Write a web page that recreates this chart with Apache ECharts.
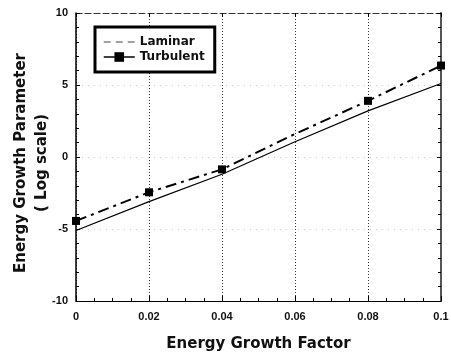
<!DOCTYPE html>
<html>
<head>
<meta charset="utf-8">
<script src="https://cdn.jsdelivr.net/npm/echarts@6/dist/echarts.min.js"></script>
<style>
html,body{margin:0;padding:0;background:#fff;}
#chart{width:451px;height:354px;}
</style>
</head>
<body>
<div id="chart"></div>
<script>
var xValues = [0, 0.02, 0.04, 0.06, 0.08, 0.1];
var laminar = [-5.1, -3.1, -1.2, 1.06, 3.2, 5.1];
var turbulent = [-4.44, -2.45, -0.86, 1.6, 3.9, 6.35];
var turbulentMarked = [true, true, true, false, true, true];
var xTicks = ['0', '0.02', '0.04', '0.06', '0.08', '0.1'];
var yTicks = ['-10', '-5', '0', '5', '10'];

var FONT = '"Liberation Sans", Arial, sans-serif';
var WIDE = '"DejaVu Sans", sans-serif';

var chart = echarts.init(document.getElementById('chart'), null, {renderer: 'canvas'});

function fmtX(v) {
  var i = Math.round(v / 0.02);
  return xTicks[i] !== undefined ? xTicks[i] : '';
}
function fmtY(v) {
  var i = Math.round((v + 10) / 5);
  return yTicks[i] !== undefined ? yTicks[i] : '';
}

var option = {
  backgroundColor: '#fff',
  animation: false,
  grid: {left: 76, right: 10, top: 13, bottom: 53, containLabel: false, outerBoundsMode: 'none'},
  legend: {
    orient: 'vertical',
    left: 95,
    top: 27,
    backgroundColor: '#fff',
    borderColor: '#000',
    borderWidth: 3,
    borderRadius: 0,
    padding: [9, 10, 9, 8],
    itemWidth: 31,
    itemHeight: 12,
    itemGap: 3,
    textStyle: {fontFamily: WIDE, fontWeight: 'bold', fontSize: 12, color: '#111'},
    data: [
      {name: 'Laminar', itemStyle: {opacity: 0}, lineStyle: {type: [7, 5], width: 1, color: '#444'}},
      {name: 'Turbulent', lineStyle: {type: 'solid', width: 1.5, color: '#000'}}
    ]
  },
  xAxis: [{
    type: 'value', min: 0, max: 0.1, interval: 0.02,
    position: 'bottom',
    name: 'Energy Growth Factor',
    nameLocation: 'middle', nameGap: 36, nameMoveOverlap: false,
    nameTextStyle: {fontFamily: WIDE, fontWeight: 'bold', fontSize: 15, color: '#111'},
    axisLine: {onZero: false, lineStyle: {color: '#000', width: 1}},
    axisTick: {inside: true, length: 5, lineStyle: {color: '#000'}},
    minorTick: {show: true, splitNumber: 4, length: 3, lineStyle: {color: '#000'}},
    axisLabel: {formatter: fmtX, margin: 10, fontFamily: FONT, fontWeight: 'bold', fontSize: 11, color: '#111'},
    splitLine: {show: true, lineStyle: {type: [1, 2], color: '#333', width: 1}}
  }, {
    type: 'value', min: 0, max: 0.1, interval: 0.02,
    position: 'top',
    axisLine: {show: true, onZero: false, lineStyle: {color: '#333', width: 1, type: [6, 3]}},
    axisTick: {show: true, inside: true, length: 4, lineStyle: {color: '#000'}},
    minorTick: {show: false},
    axisLabel: {show: false},
    splitLine: {show: false}
  }],
  yAxis: [{
    type: 'value', min: -10, max: 10, interval: 5,
    position: 'left',
    name: 'Energy Growth Parameter\n( Log scale)',
    nameLocation: 'middle', nameGap: 23, nameRotate: 90, nameMoveOverlap: false,
    nameTextStyle: {fontFamily: WIDE, fontWeight: 'bold', fontSize: 15, color: '#111', lineHeight: 21, align: 'center', padding: [0, 12, 0, 0]},
    axisLine: {show: true, onZero: false, lineStyle: {color: '#000', width: 1.5}},
    axisTick: {inside: true, length: 4, lineStyle: {color: '#000'}},
    minorTick: {show: true, splitNumber: 5, length: 3, lineStyle: {color: '#000'}},
    axisLabel: {formatter: fmtY, margin: 8, fontFamily: FONT, fontWeight: 'bold', fontSize: 11, color: '#111'},
    splitLine: {show: true, lineStyle: {type: [1, 5], color: '#ccc', width: 1}}
  }, {
    type: 'value', min: -10, max: 10, interval: 5,
    position: 'right',
    axisLine: {show: true, onZero: false, lineStyle: {color: '#555', width: 2}},
    axisTick: {show: true, inside: true, length: 4, lineStyle: {color: '#000'}},
    minorTick: {show: true, splitNumber: 5, length: 3, lineStyle: {color: '#000'}},
    axisLabel: {show: false},
    splitLine: {show: false}
  }],
  series: [{
    name: 'Laminar',
    type: 'line',
    xAxisIndex: 0, yAxisIndex: 0,
    symbol: 'none',
    clip: false,
    lineStyle: {color: '#000', width: 1.2, type: 'solid'},
    itemStyle: {color: '#000'},
    data: xValues.map(function (x, i) { return [x, laminar[i]]; })
  }, {
    name: 'Turbulent',
    type: 'line',
    xAxisIndex: 0, yAxisIndex: 0,
    symbol: 'rect',
    symbolSize: 8,
    clip: false,
    lineStyle: {color: '#000', width: 2, type: [11, 5, 3, 5]},
    itemStyle: {color: '#000'},
    data: xValues.map(function (x, i) {
      var d = {value: [x, turbulent[i]]};
      if (!turbulentMarked[i]) { d.symbol = 'none'; }
      return d;
    })
  }]
};
chart.setOption(option);
</script>
</body>
</html>
